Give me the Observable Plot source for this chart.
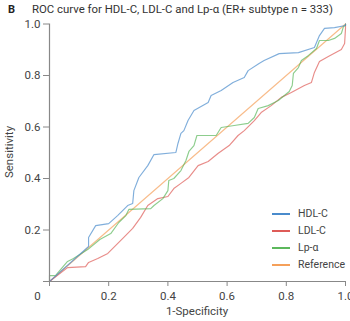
<!DOCTYPE html>
<html><head><meta charset="utf-8">
<script src="https://cdn.jsdelivr.net/npm/d3@7"></script>
<script src="https://cdn.jsdelivr.net/npm/@observablehq/plot@0.6"></script>
<style>
body{margin:0;background:#fff;font-family:Roboto,"Noto Sans",sans-serif;}
#wrap{position:relative;width:350px;height:321px;overflow:hidden;}
.t{position:absolute;white-space:nowrap;color:#333;}
.leg{position:absolute;left:272px;font-size:10.5px;color:#444;}
.leg span{display:inline-block;width:18px;height:2px;vertical-align:middle;margin-right:8px;}
</style></head>
<body><div id="wrap"></div>
<script>
const seriesNames = ["HDL-C","LDL-C","Lp-α","Reference"];
const colors = ["#4a8bcc","#de5b57","#5cb85c","#f5a05a"];
const hdlX = [0,0.132,0.132,0.156,0.2,0.23,0.264,0.281,0.285,0.302,0.332,0.353,0.427,0.434,0.444,0.454,0.468,0.488,0.536,0.546,0.58,0.62,0.658,0.671,0.708,0.725,0.776,0.841,0.895,0.912,0.929,0.963,1,1];
const hdlY = [0,0.136,0.171,0.217,0.225,0.256,0.295,0.303,0.353,0.404,0.45,0.493,0.501,0.536,0.575,0.586,0.625,0.664,0.695,0.722,0.742,0.773,0.792,0.819,0.847,0.858,0.885,0.889,0.909,0.955,0.983,0.986,0.994,1];
const ldlX = [0,0.061,0.122,0.132,0.163,0.197,0.224,0.251,0.281,0.308,0.332,0.366,0.4,0.42,0.444,0.471,0.502,0.536,0.569,0.607,0.637,0.658,0.692,0.715,0.749,0.783,0.817,0.861,0.885,0.895,0.912,0.942,0.986,0.997,1,1];
const ldlY = [0,0.054,0.058,0.074,0.089,0.109,0.14,0.171,0.206,0.249,0.295,0.322,0.33,0.361,0.381,0.404,0.45,0.466,0.497,0.528,0.567,0.586,0.625,0.656,0.683,0.715,0.734,0.761,0.773,0.812,0.854,0.874,0.901,0.924,0.983,1];
const lpaX = [0,0,0.02,0.061,0.081,0.129,0.17,0.207,0.234,0.258,0.268,0.342,0.353,0.383,0.4,0.403,0.42,0.444,0.461,0.471,0.488,0.498,0.563,0.58,0.624,0.671,0.692,0.705,0.739,0.773,0.81,0.82,0.824,0.841,0.851,0.875,0.902,0.912,0.942,0.963,0.986,0.993,1,1];
const lpaY = [0,0.023,0.023,0.078,0.089,0.124,0.163,0.186,0.229,0.256,0.28,0.283,0.295,0.322,0.353,0.392,0.4,0.431,0.47,0.505,0.528,0.567,0.567,0.598,0.606,0.614,0.637,0.672,0.683,0.703,0.738,0.761,0.808,0.831,0.858,0.878,0.905,0.936,0.936,0.944,0.963,0.99,0.994,1];
const refX = [0,1];
const refY = [0,1];
const ticks = [0,0.2,0.4,0.6,0.8,1.0];

const mk = (xs, ys, name) => xs.map((x,i)=>({x, y: ys[i], name}));
const data = [
  ...mk(refX, refY, "Reference"),
  ...mk(ldlX, ldlY, "LDL-C"),
  ...mk(lpaX, lpaY, "Lp-α"),
  ...mk(hdlX, hdlY, "HDL-C")
];
const fmt = d => d === 0 ? "" : d3.format(".1f")(d);

const plot = Plot.plot({
  width: 350, height: 321,
  marginLeft: 49, marginRight: 5, marginTop: 23.5, marginBottom: 40,
  style: {fontFamily: "Roboto, 'Noto Sans', sans-serif", fontSize: "11.5px", color: "#444", background: "#fff"},
  x: {domain: [0,1], label: null},
  y: {domain: [0,1], label: null},
  color: {domain: seriesNames, range: colors},
  marks: [
    Plot.line(data, {x: "x", y: "y", z: "name", stroke: "name", strokeWidth: 1.15, strokeOpacity: 0.7}),
    Plot.ruleX([0], {y1: 0, y2: 1, stroke: "#888", strokeWidth: 1.2}),
    Plot.ruleY([0], {x1: 0, x2: 1, stroke: "#888", strokeWidth: 1.2}),
    Plot.axisX({ticks, tickFormat: fmt, tickSize: 5, tickPadding: 5, stroke: "#888", fill: "#444", label: null}),
    Plot.axisY({ticks, tickFormat: fmt, tickSize: 6, tickPadding: 3, stroke: "#888", fill: "#444", label: null}),
    Plot.text(["0"], {x: 0, y: 0, dx: -12, dy: 15, fill: "#444"})
  ]
});
const wrap = document.getElementById("wrap");
wrap.appendChild(plot);
plot.style.position = "absolute"; plot.style.left = "0"; plot.style.top = "0";

function addText(html, css){const d=document.createElement("div");d.className="t";d.innerHTML=html;Object.assign(d.style,css);wrap.appendChild(d);return d;}
addText("B", {left:"8px", top:"3px", fontSize:"11px", fontWeight:"bold", color:"#222"});
addText("ROC curve for HDL-C, LDL-C and Lp-α (ER+ subtype n = 333)", {left:"32px", top:"2px", fontSize:"11.4px", color:"#333"});
addText("1-Specificity", {left:"197px", top:"304px", fontSize:"11.5px", color:"#444", transform:"translateX(-50%)"});
addText("Sensitivity", {left:"9px", top:"152px", fontSize:"11.5px", color:"#444", transform:"translate(-50%,-50%) rotate(-90deg)"});
const legY = [214,231,248,265];
seriesNames.forEach((n,i)=>{
  const d=document.createElement("div");d.className="leg";
  d.style.top=(legY[i]-7)+"px";
  d.innerHTML=`<span style="background:${colors[i]}"></span>${n}`;
  wrap.appendChild(d);
});
</script></body></html>
